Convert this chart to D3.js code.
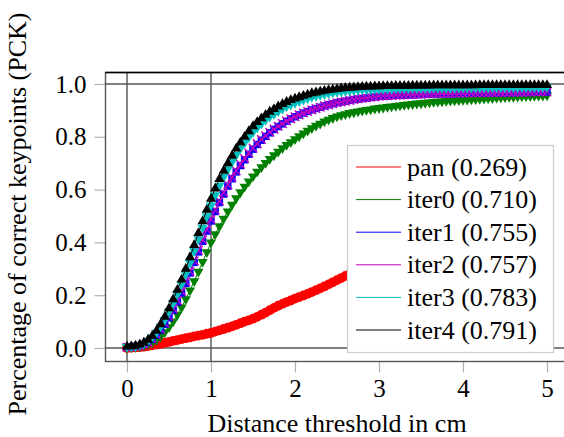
<!doctype html>
<html>
<head>
<meta charset="utf-8" />
<title>PCK</title>
<script src="https://d3js.org/d3.v7.min.js"></script>
<style>
  body { margin: 0; background: #fff; }
</style>
</head>
<body>
<svg width="564" height="437"></svg>
<script>
// distance thresholds 0 .. 5 cm, step 0.05
var thresholds = d3.range(101).map(i => i / 20);

var pan = [
  0.000, 0.001, 0.002, 0.003, 0.005, 0.007, 0.010, 0.013, 0.016, 0.020,
  0.023, 0.027, 0.030, 0.034, 0.037, 0.040, 0.044, 0.047, 0.050, 0.054,
  0.057, 0.062, 0.067, 0.072, 0.077, 0.082, 0.088, 0.094, 0.100, 0.105,
  0.111, 0.118, 0.126, 0.134, 0.143, 0.152, 0.160, 0.167, 0.174, 0.180,
  0.187, 0.193, 0.199, 0.205, 0.212, 0.219, 0.226, 0.233, 0.241, 0.249,
  0.257, 0.265, 0.273, 0.280, 0.287, 0.294, 0.301, 0.309, 0.316, 0.322,
  0.330, 0.337, 0.343, 0.351, 0.358, 0.364, 0.371, 0.379, 0.386, 0.392,
  0.399, 0.407, 0.413, 0.420, 0.428, 0.434, 0.441, 0.449, 0.455, 0.462,
  0.470, 0.476, 0.483, 0.490, 0.497, 0.504, 0.511, 0.518, 0.525, 0.532,
  0.539, 0.546, 0.553, 0.560, 0.567, 0.574, 0.581, 0.588, 0.595, 0.602,
  0.609
];
var iter0 = [
  0.002, 0.003, 0.004, 0.006, 0.009, 0.014, 0.021, 0.031, 0.044, 0.060,
  0.079, 0.101, 0.126, 0.154, 0.185, 0.218, 0.253, 0.289, 0.326, 0.363,
  0.400, 0.431, 0.461, 0.490, 0.517, 0.543, 0.567, 0.590, 0.611, 0.631,
  0.650, 0.668, 0.685, 0.701, 0.716, 0.730, 0.744, 0.757, 0.769, 0.780,
  0.791, 0.802, 0.813, 0.823, 0.833, 0.842, 0.850, 0.858, 0.865, 0.871,
  0.877, 0.882, 0.886, 0.890, 0.893, 0.896, 0.899, 0.902, 0.904, 0.907,
  0.909, 0.911, 0.913, 0.915, 0.917, 0.919, 0.921, 0.923, 0.924, 0.926,
  0.927, 0.929, 0.930, 0.932, 0.933, 0.934, 0.936, 0.937, 0.938, 0.939,
  0.940, 0.941, 0.942, 0.943, 0.944, 0.945, 0.946, 0.947, 0.948, 0.949,
  0.950, 0.951, 0.951, 0.952, 0.953, 0.954, 0.954, 0.955, 0.956, 0.956,
  0.957
];
var iter1 = [
  0.003, 0.004, 0.006, 0.009, 0.014, 0.022, 0.033, 0.049, 0.068, 0.090,
  0.115, 0.143, 0.174, 0.208, 0.245, 0.284, 0.324, 0.364, 0.404, 0.443,
  0.481, 0.517, 0.551, 0.583, 0.613, 0.641, 0.667, 0.691, 0.713, 0.734,
  0.753, 0.771, 0.787, 0.802, 0.815, 0.828, 0.839, 0.849, 0.859, 0.868,
  0.876, 0.883, 0.890, 0.896, 0.902, 0.907, 0.912, 0.917, 0.921, 0.925,
  0.929, 0.932, 0.935, 0.938, 0.941, 0.943, 0.945, 0.947, 0.949, 0.951,
  0.953, 0.954, 0.955, 0.956, 0.957, 0.957, 0.958, 0.959, 0.959, 0.960,
  0.960, 0.961, 0.961, 0.962, 0.962, 0.963, 0.963, 0.963, 0.964, 0.964,
  0.964, 0.965, 0.965, 0.965, 0.966, 0.966, 0.966, 0.966, 0.967, 0.967,
  0.967, 0.967, 0.968, 0.968, 0.968, 0.968, 0.968, 0.969, 0.969, 0.969,
  0.969
];
var iter2 = [
  0.003, 0.004, 0.006, 0.009, 0.015, 0.023, 0.035, 0.051, 0.071, 0.094,
  0.120, 0.149, 0.180, 0.214, 0.251, 0.290, 0.330, 0.370, 0.410, 0.449,
  0.487, 0.523, 0.557, 0.589, 0.619, 0.646, 0.672, 0.696, 0.718, 0.738,
  0.757, 0.774, 0.790, 0.804, 0.817, 0.829, 0.840, 0.850, 0.860, 0.868,
  0.876, 0.883, 0.890, 0.896, 0.902, 0.907, 0.912, 0.917, 0.921, 0.925,
  0.929, 0.932, 0.935, 0.938, 0.941, 0.944, 0.946, 0.948, 0.950, 0.952,
  0.954, 0.955, 0.956, 0.957, 0.958, 0.958, 0.959, 0.960, 0.960, 0.961,
  0.961, 0.962, 0.962, 0.963, 0.963, 0.964, 0.964, 0.964, 0.965, 0.965,
  0.965, 0.966, 0.966, 0.966, 0.967, 0.967, 0.967, 0.967, 0.968, 0.968,
  0.968, 0.968, 0.969, 0.969, 0.969, 0.969, 0.969, 0.970, 0.970, 0.970,
  0.970
];
var iter3 = [
  0.004, 0.005, 0.007, 0.011, 0.017, 0.027, 0.040, 0.058, 0.081, 0.107,
  0.138, 0.170, 0.204, 0.241, 0.280, 0.322, 0.367, 0.412, 0.456, 0.499,
  0.540, 0.579, 0.615, 0.648, 0.677, 0.705, 0.732, 0.756, 0.778, 0.799,
  0.818, 0.835, 0.850, 0.864, 0.876, 0.887, 0.897, 0.906, 0.915, 0.922,
  0.929, 0.935, 0.941, 0.946, 0.951, 0.955, 0.959, 0.962, 0.965, 0.968,
  0.970, 0.972, 0.974, 0.975, 0.977, 0.978, 0.979, 0.980, 0.980, 0.981,
  0.981, 0.982, 0.982, 0.982, 0.983, 0.983, 0.983, 0.983, 0.984, 0.984,
  0.984, 0.984, 0.984, 0.985, 0.985, 0.985, 0.985, 0.985, 0.985, 0.986,
  0.986, 0.986, 0.986, 0.986, 0.986, 0.986, 0.987, 0.987, 0.987, 0.987,
  0.987, 0.987, 0.987, 0.987, 0.988, 0.988, 0.988, 0.988, 0.988, 0.988,
  0.988
];
var iter4 = [
  0.005, 0.006, 0.008, 0.013, 0.020, 0.031, 0.045, 0.065, 0.090, 0.118,
  0.150, 0.184, 0.220, 0.259, 0.300, 0.344, 0.390, 0.435, 0.480, 0.523,
  0.565, 0.604, 0.640, 0.671, 0.700, 0.728, 0.755, 0.778, 0.800, 0.821,
  0.840, 0.856, 0.870, 0.883, 0.895, 0.905, 0.915, 0.924, 0.932, 0.939,
  0.945, 0.950, 0.955, 0.960, 0.965, 0.968, 0.971, 0.974, 0.977, 0.979,
  0.981, 0.983, 0.985, 0.986, 0.987, 0.988, 0.989, 0.990, 0.990, 0.991,
  0.991, 0.992, 0.992, 0.992, 0.993, 0.993, 0.993, 0.993, 0.994, 0.994,
  0.994, 0.994, 0.994, 0.995, 0.995, 0.995, 0.995, 0.995, 0.995, 0.995,
  0.995, 0.995, 0.995, 0.995, 0.996, 0.996, 0.996, 0.996, 0.996, 0.996,
  0.996, 0.996, 0.996, 0.996, 0.996, 0.996, 0.996, 0.996, 0.996, 0.996,
  0.996
];

var seriesNames = ["pan", "iter0", "iter1", "iter2", "iter3", "iter4"];
var seriesAuc = ["0.269", "0.710", "0.755", "0.757", "0.783", "0.791"];
var seriesValues = [pan, iter0, iter1, iter2, iter3, iter4];
var seriesColors = ["#ff0000", "#008000", "#0000ff", "#bf00bf", "#00bfbf", "#000000"];
var seriesMarks = ["circle", "triDown", "square", "cross", "triDown", "triUp"];

var xTicks = [0, 1, 2, 3, 4, 5];
var yTicks = [0, 0.2, 0.4, 0.6, 0.8, 1.0];

var FONT = "Liberation Serif";
var svg = d3.select("svg").attr("font-family", FONT);
var x = d3.scaleLinear().domain([0, 5]).range([127, 547]);
var y = d3.scaleLinear().domain([0, 1]).range([348, 84]);

var frameL = 105.5, frameR = 580, frameT = 72.5, frameB = 361.5;

// ticks outside the frame
var xAxis = svg.append("g").attr("transform", `translate(0,${frameB})`)
  .call(d3.axisBottom(x).tickValues(xTicks).tickSize(11).tickPadding(7).tickFormat(d3.format("d")));
var yAxis = svg.append("g").attr("transform", `translate(${frameL},0)`)
  .call(d3.axisLeft(y).tickValues(yTicks).tickSize(11).tickPadding(8).tickFormat(d3.format(".1f")));
[xAxis, yAxis].forEach(a => {
  a.attr("font-family", FONT).attr("font-size", 25);
  a.select(".domain").remove();
  a.selectAll("line").attr("stroke", "#b0b0b0").attr("stroke-width", 1.2);
  a.selectAll("text").attr("fill", "#000");
});

// extra grid lines at 0 and 1
svg.selectAll(".vgrid").data([0, 1]).enter().append("line")
  .attr("x1", d => x(d)).attr("x2", d => x(d))
  .attr("y1", frameT).attr("y2", frameB)
  .attr("stroke", "#666").attr("stroke-width", 1.6);
svg.selectAll(".hgrid").data([0, 1]).enter().append("line")
  .attr("x1", frameL).attr("x2", frameR)
  .attr("y1", d => y(d)).attr("y2", d => y(d))
  .attr("stroke", "#555").attr("stroke-width", 1.4);

// frame
svg.append("rect").attr("x", frameL).attr("y", frameT)
  .attr("width", frameR - frameL).attr("height", frameB - frameT)
  .attr("fill", "none").attr("stroke", "#555").attr("stroke-width", 1.4);
svg.append("line").attr("x1", frameL).attr("x2", frameR).attr("y1", frameT).attr("y2", frameT)
  .attr("stroke", "#000").attr("stroke-width", 1.4);

function markPath(kind) {
  if (kind === "circle") return d3.symbol(d3.symbolCircle, 75)();
  if (kind === "square") return d3.symbol(d3.symbolSquare, 55)();
  if (kind === "cross") return d3.symbol(d3.symbolX, 50)();
  return d3.symbol(d3.symbolTriangle, 45)();
}

var line = d3.line().x((d, i) => x(thresholds[i])).y(d => y(d));

seriesValues.forEach((vals, s) => {
  var g = svg.append("g");
  var c = seriesColors[s], kind = seriesMarks[s];
  g.append("path").attr("d", line(vals)).attr("fill", "none")
    .attr("stroke", c).attr("stroke-width", 1);
  g.selectAll("path.m").data(vals).enter().append("path").attr("class", "m")
    .attr("d", markPath(kind))
    .attr("transform", (d, i) => `translate(${x(thresholds[i])},${y(d)})` + (kind === "triDown" ? " rotate(180)" : ""))
    .attr("fill", kind === "cross" ? "none" : c)
    .attr("stroke", kind === "cross" ? c : "none")
    .attr("stroke-width", 1.4);
});

// legend
var lg = svg.append("g");
lg.append("rect").attr("x", 347.5).attr("y", 145.5).attr("width", 206).attr("height", 207)
  .attr("fill", "#fff").attr("stroke", "#cccccc").attr("stroke-width", 1.2);
seriesNames.forEach((n, i) => {
  var cy = 167 + i * 32.6;
  lg.append("line").attr("x1", 356).attr("x2", 401).attr("y1", cy).attr("y2", cy)
    .attr("stroke", seriesColors[i]).attr("stroke-width", 1);
  lg.append("text").attr("x", 407).attr("y", cy).attr("dy", "0.33em")
    .attr("font-size", 26).text(`${n} (${seriesAuc[i]})`);
});

// axis titles
svg.append("text").attr("x", 337).attr("y", 432).attr("text-anchor", "middle")
  .attr("font-size", 26).text("Distance threshold in cm");
svg.append("text").attr("transform", "translate(26,214) rotate(-90)")
  .attr("text-anchor", "middle").attr("font-size", 26)
  .text("Percentage of correct keypoints (PCK)");
</script>
</body>
</html>
